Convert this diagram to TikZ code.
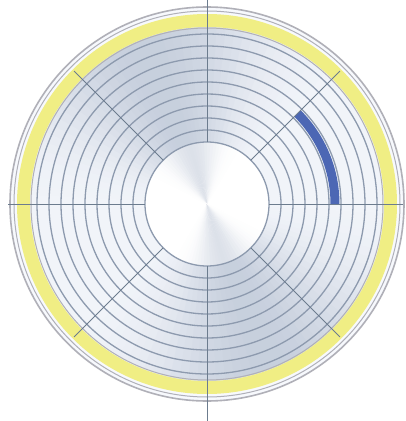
\documentclass[tikz,border=0pt]{standalone}
\usepackage[dvipsnames,svgnames]{xcolor}
\definecolor{metalDark}{HTML}{B2BDCF}
\definecolor{metalLight}{HTML}{F7F9FD}
\definecolor{trackGray}{HTML}{8D9AAE}
\definecolor{sectorGray}{HTML}{6C7C8E}
\definecolor{bandYellow}{HTML}{F0EE84}
\definecolor{rimGray}{HTML}{B0B0B8}
\definecolor{blockBlue}{HTML}{4C67B4}
\usepackage{tikz}
\usetikzlibrary{calc}

\tikzset{
  track/.style={trackGray, line width=1.3pt},
  sector/.style={sectorGray, line width=0.9pt},
  rim/.style={rimGray, line width=1.6pt}
}

\begin{document}
\begin{tikzpicture}[x=1pt, y=1pt]
    \useasboundingbox[fill=white] (-207,-217) rectangle (199,204);
    % ══════════════════════════════════════════════
    % ══ DISCO ══
    % ══════════════════════════════════════════════
    \coordinate (C) at (0,0);

    % Fondo metalico (sombreado conico)
    \fill[metalLight] (C) circle (197);
    \foreach \a in {0,3,...,357}{
        \pgfmathtruncatemacro\mix{8+62*((0.5+0.5*cos(2*(\a-110)))^2)}
        \fill[metalDark!\mix!metalLight] (C) -- (\a:177) arc[start angle=\a, end angle=\a+3.6, radius=177] -- cycle;
    }

    % Cubo central
    \fill[white] (C) circle (62);
    \foreach \a in {0,3,...,357}{
        \pgfmathtruncatemacro\mix{45*((0.5+0.5*cos(2*(\a-105)))^5)}
        \fill[metalDark!\mix!white] (C) -- (\a:62) arc[start angle=\a, end angle=\a+3.6, radius=62] -- cycle;
    }

    % Banda amarilla y bordes
    \draw[bandYellow, line width=13pt] (C) circle (183.5);
    \draw[rim] (C) circle (197);
    \draw[rim, line width=1pt] (C) circle (193);
    \draw[rim, line width=1pt] (C) circle (176);

    % Pistas
    \foreach \k in {0,...,9}
        \draw[track] (C) circle ({62+12*\k});

    % Bloque (sector de una pista)
    \fill[blockBlue] (0:123.5) arc[start angle=0, end angle=45, radius=123.5]
        -- (45:132.5) arc[start angle=45, end angle=0, radius=132.5] -- cycle;

    % ══════════════════════════════════════════════
    % ══ SECTORES ══
    % ══════════════════════════════════════════════
    \draw[sector] (90:62) -- (0,204);
    \draw[sector] (270:62) -- (0,-217);
    \draw[sector] (0:62) -- (0:196);
    \draw[sector] (180:62) -- (180:199);
    \foreach \a in {45,135,225,315}
        \draw[sector] (\a:62) -- (\a:188);

\end{tikzpicture}
\end{document}
